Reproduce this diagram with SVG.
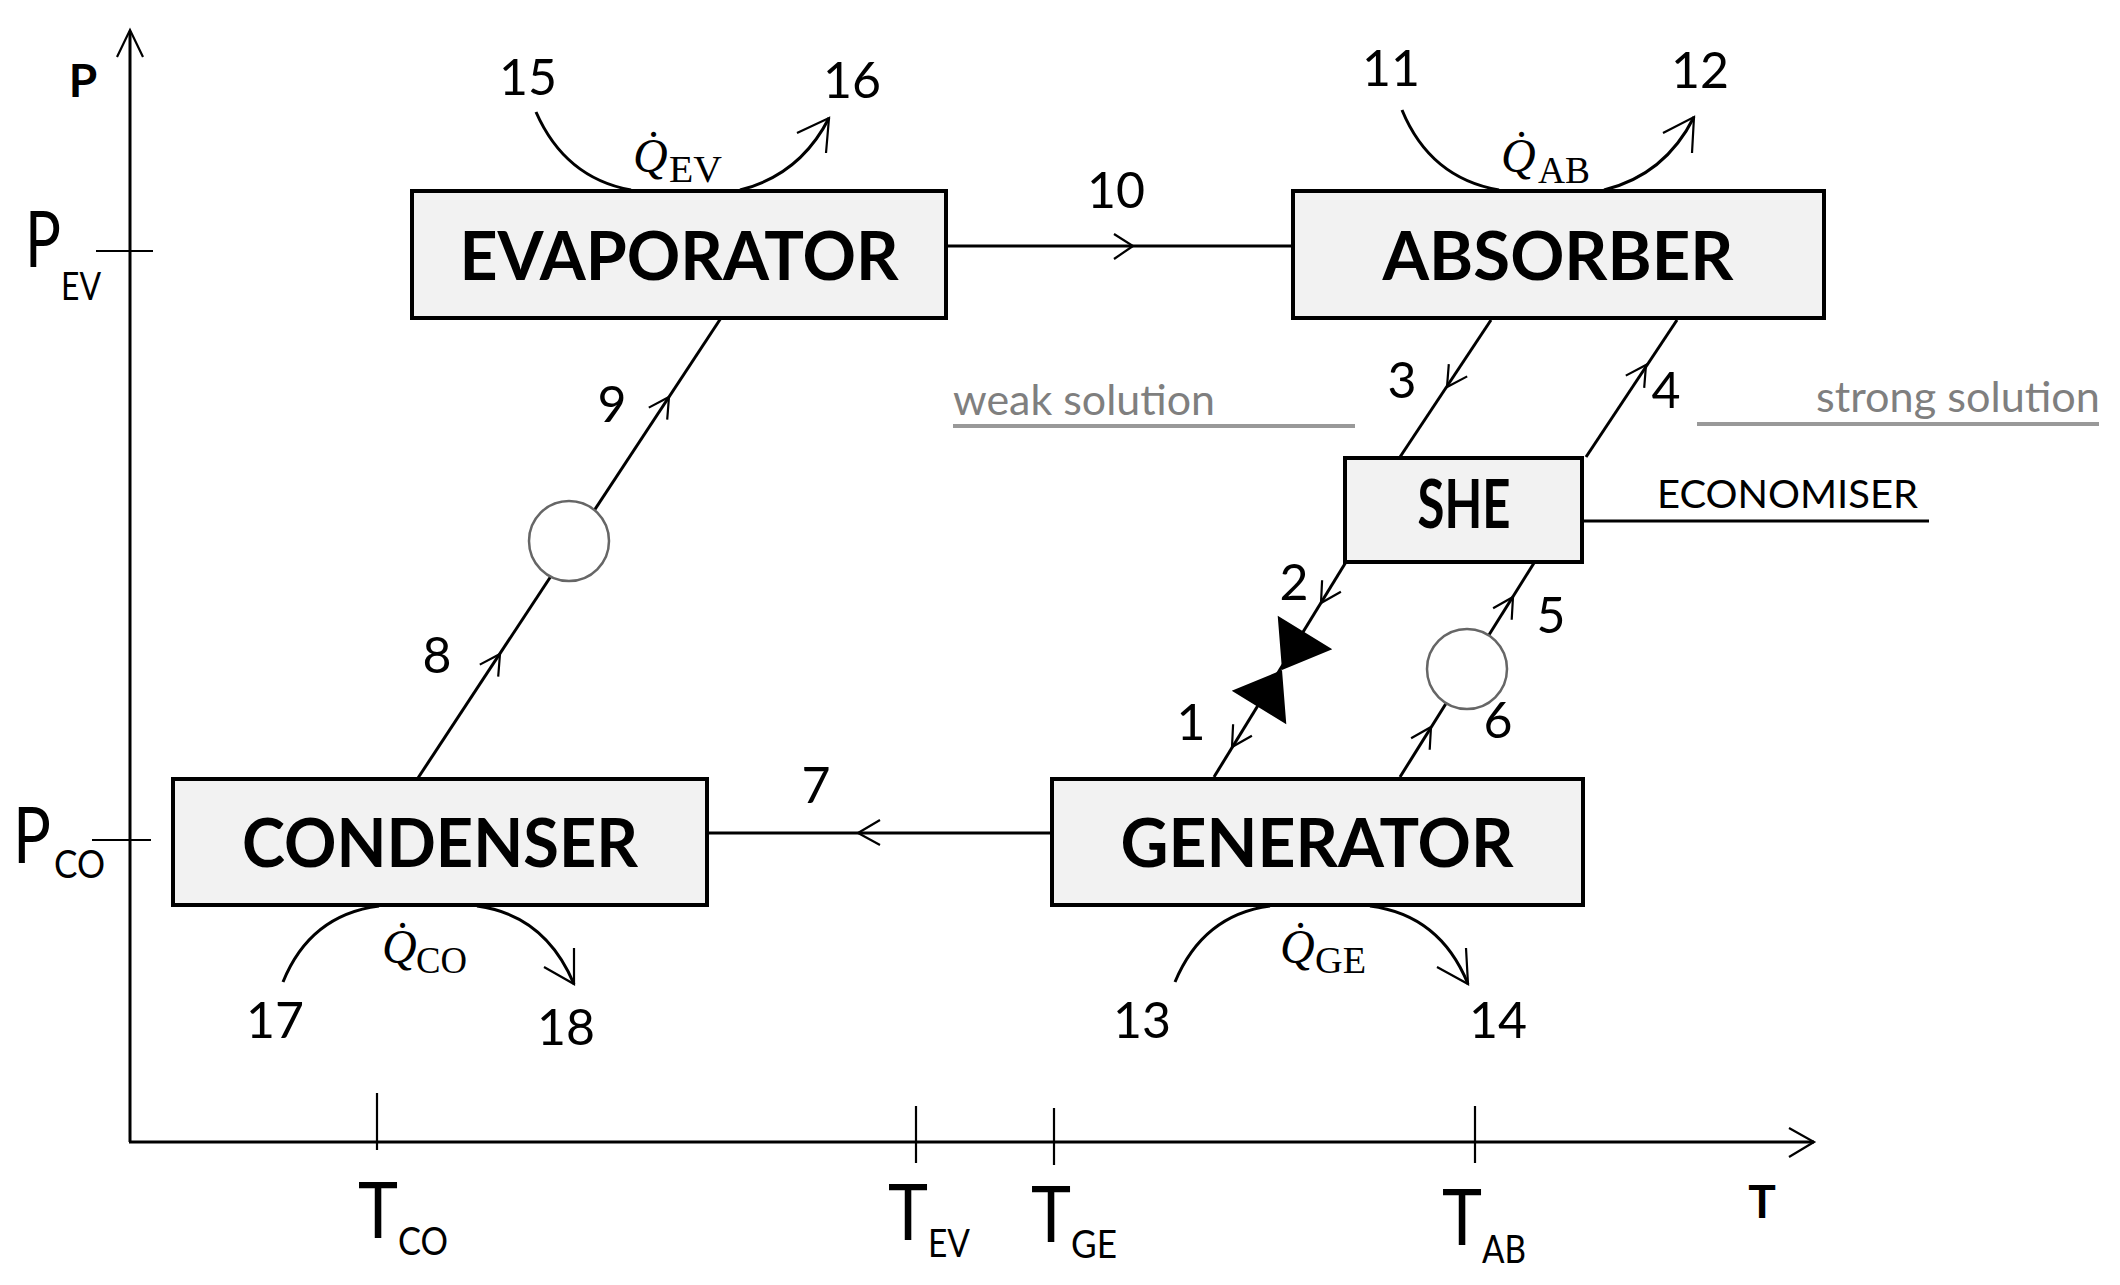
<svg xmlns="http://www.w3.org/2000/svg" width="2120" height="1285" viewBox="0 0 2120 1285">
<style>
.box{fill:#f2f2f2;stroke:#000;stroke-width:4}
.lbl{font-family:Lato,"Liberation Sans",sans-serif;font-weight:bold;font-size:66px;fill:#000;text-anchor:middle}
.num{font-family:Lato,"Liberation Sans",sans-serif;font-size:50px;fill:#000;text-anchor:middle}
.ax{font-family:Lato,"Liberation Sans",sans-serif;font-size:77px;fill:#000}
.sub{font-family:Lato,"Liberation Sans",sans-serif;font-size:38px;fill:#000}
.axb{font-family:Lato,"Liberation Sans",sans-serif;font-weight:bold;font-size:46px;fill:#000;text-anchor:middle}
.q{font-family:"Liberation Serif","DejaVu Serif",serif;font-style:italic;font-size:48px;fill:#000}
.qs{font-family:"Liberation Serif","DejaVu Serif",serif;font-size:38px;fill:#000}
.note{font-family:Lato,"Liberation Sans",sans-serif;font-size:43px;fill:#7f7f7f}
.ln{fill:none;stroke:#000;stroke-width:3}
.thin{fill:none;stroke:#000;stroke-width:2.2}
.gray{fill:none;stroke:#999;stroke-width:4}
.pump{fill:#fff;stroke:#666;stroke-width:2.5}
</style>

<g id="axes">
  <line class="ln" x1="130" y1="1142" x2="130" y2="32" stroke-width="2.5"/>
  <polyline class="thin" points="117,57 130,30 143,57"/>
  <line class="ln" x1="129" y1="1142" x2="1814" y2="1142" stroke-width="3.5"/>
  <polyline class="thin" points="1789,1128 1814,1142 1789,1157" stroke-width="2.5"/>
  <line class="thin" x1="96" y1="251" x2="153" y2="251"/>
  <line class="thin" x1="92" y1="840" x2="151" y2="840"/>
  <line class="thin" x1="377" y1="1093" x2="377" y2="1150"/>
  <line class="thin" x1="916" y1="1106" x2="916" y2="1163"/>
  <line class="thin" x1="1054" y1="1108" x2="1054" y2="1165"/>
  <line class="thin" x1="1475" y1="1106" x2="1475" y2="1163"/>
  <text class="axb" x="83" y="97">P</text>
  <text class="axb" x="1762" y="1218">T</text>
  <text class="ax" x="25" y="267" textLength="36" lengthAdjust="spacingAndGlyphs">P</text>
  <text class="sub" x="61" y="300" textLength="40" lengthAdjust="spacingAndGlyphs">EV</text>
  <text class="ax" x="13" y="863" textLength="38" lengthAdjust="spacingAndGlyphs">P</text>
  <text class="sub" x="54" y="878" textLength="51" lengthAdjust="spacingAndGlyphs">CO</text>
  <text class="ax" x="358" y="1238" textLength="40" lengthAdjust="spacingAndGlyphs">T</text>
  <text class="sub" x="398" y="1255" textLength="50" lengthAdjust="spacingAndGlyphs">CO</text>
  <text class="ax" x="888" y="1240" textLength="40" lengthAdjust="spacingAndGlyphs">T</text>
  <text class="sub" x="928" y="1257" textLength="42" lengthAdjust="spacingAndGlyphs">EV</text>
  <text class="ax" x="1031" y="1242" textLength="40" lengthAdjust="spacingAndGlyphs">T</text>
  <text class="sub" x="1071" y="1258" textLength="46" lengthAdjust="spacingAndGlyphs">GE</text>
  <text class="ax" x="1442" y="1245" textLength="40" lengthAdjust="spacingAndGlyphs">T</text>
  <text class="sub" x="1482" y="1263" textLength="44" lengthAdjust="spacingAndGlyphs">AB</text>
</g>

<g id="connectors">
  <!-- 10: evaporator -> absorber -->
  <line class="ln" x1="946" y1="246" x2="1293" y2="246"/>
  <polyline class="thin" points="1114,234 1133,246 1114,259"/>
  <!-- 7: generator -> condenser -->
  <line class="ln" x1="1052" y1="833" x2="707" y2="833"/>
  <polyline class="thin" points="880,820 858,833 880,845"/>
  <!-- 8/9: condenser -> pump -> evaporator -->
  <line class="ln" x1="418" y1="778" x2="721" y2="318"/>
  <polyline class="thin" points="498.2,676.7 500,654 479.8,664.6"/>
  <polyline class="thin" points="667.2,419.7 669,397 648.8,407.6"/>
  <!-- 3: absorber -> SHE -->
  <line class="ln" x1="1491" y1="320" x2="1400" y2="457"/>
  <polyline class="thin" points="1467.2,376.4 1447,387 1448.8,364.2"/>
  <!-- 4: SHE -> absorber -->
  <line class="ln" x1="1586" y1="457" x2="1677" y2="320"/>
  <polyline class="thin" points="1644.2,387.8 1646,365 1625.8,375.6"/>
  <!-- 2/1: SHE -> valve -> generator -->
  <line class="ln" x1="1346" y1="562" x2="1214" y2="777"/>
  <polyline class="thin" points="1340.9,591.7 1321,603 1322.1,580.2"/>
  <polyline class="thin" points="1251.9,735.7 1232,747 1233.1,724.2"/>
  <!-- 6/5: generator -> pump -> SHE -->
  <line class="ln" x1="1400" y1="777" x2="1534" y2="563"/>
  <polyline class="thin" points="1429.7,749.8 1431,727 1411.1,738.2"/>
  <polyline class="thin" points="1511.7,619.8 1513,597 1493.1,608.2"/>
  <!-- economiser leader -->
  <line class="ln" x1="1582" y1="521" x2="1929" y2="521" stroke-width="3.5"/>
  <!-- heat flows -->
  <path class="ln" d="M536,112 Q565,178 631,190"/>
  <path class="ln" d="M740,190 Q800,175 829,118"/>
  <polyline class="thin" points="797,133 829,118 826,153" stroke-width="2.5"/>
  <path class="ln" d="M1402,110 Q1430,178 1499,190"/>
  <path class="ln" d="M1604,190 Q1665,175 1694,117"/>
  <polyline class="thin" points="1663,133 1694,117 1692,153" stroke-width="2.5"/>
  <path class="ln" d="M283,982 Q310,915 379,906"/>
  <path class="ln" d="M477,906 Q545,915 574,984"/>
  <polyline class="thin" points="544,967 574,984 574,948" stroke-width="2.5"/>
  <path class="ln" d="M1175,982 Q1203,915 1270,906"/>
  <path class="ln" d="M1370,906 Q1440,915 1468,984"/>
  <polyline class="thin" points="1437,967 1468,984 1466,948" stroke-width="2.5"/>
</g>

<g id="pump1"><circle class="pump" cx="569" cy="541" r="40"/></g>
<g id="pump2"><circle class="pump" cx="1467" cy="669" r="40"/></g>
<g id="valve">
  <g transform="translate(1282,670) rotate(121.5)">
    <path d="M0,0 L44,-32 L44,32 Z M0,0 L-44,-32 L-44,32 Z" fill="#000"/>
  </g>
</g>

<g id="evaporator">
  <rect class="box" x="412" y="191" width="534" height="127"/>
  <text class="lbl" x="679" y="280" textLength="439" lengthAdjust="spacingAndGlyphs">EVAPORATOR</text>
</g>
<g id="absorber">
  <rect class="box" x="1293" y="191" width="531" height="127"/>
  <text class="lbl" x="1558" y="280" textLength="351" lengthAdjust="spacingAndGlyphs">ABSORBER</text>
</g>
<g id="condenser">
  <rect class="box" x="173" y="779" width="534" height="126"/>
  <text class="lbl" x="440" y="867" textLength="396" lengthAdjust="spacingAndGlyphs">CONDENSER</text>
</g>
<g id="generator">
  <rect class="box" x="1052" y="779" width="531" height="126"/>
  <text class="lbl" x="1317" y="867" textLength="393" lengthAdjust="spacingAndGlyphs">GENERATOR</text>
</g>
<g id="she">
  <rect class="box" x="1345" y="458" width="237" height="104"/>
  <text class="lbl" x="1464" y="528" font-size="49" textLength="93" lengthAdjust="spacingAndGlyphs">SHE</text>
</g>

<g id="labels">
  <text class="num" x="528" y="95">15</text>
  <text class="num" x="852" y="98">16</text>
  <text class="num" x="1391" y="86">11</text>
  <text class="num" x="1700" y="88">12</text>
  <text class="num" x="1116" y="208">10</text>
  <text class="num" x="612" y="422">9</text>
  <text class="num" x="437" y="673">8</text>
  <text class="num" x="816" y="803">7</text>
  <text class="num" x="1402" y="398">3</text>
  <text class="num" x="1666" y="408">4</text>
  <text class="num" x="1294" y="600">2</text>
  <text class="num" x="1191" y="740">1</text>
  <text class="num" x="1551" y="633">5</text>
  <text class="num" x="1498" y="738">6</text>
  <text class="num" x="275" y="1038">17</text>
  <text class="num" x="566" y="1045">18</text>
  <text class="num" x="1142" y="1038">13</text>
  <text class="num" x="1498" y="1038">14</text>

  <text class="q" x="633" y="172">Q̇</text>
  <text class="qs" x="669" y="182" textLength="53" lengthAdjust="spacingAndGlyphs">EV</text>
  <text class="q" x="1501" y="172">Q̇</text>
  <text class="qs" x="1538" y="183" textLength="52" lengthAdjust="spacingAndGlyphs">AB</text>
  <text class="q" x="382" y="963">Q̇</text>
  <text class="qs" x="416" y="973" textLength="51" lengthAdjust="spacingAndGlyphs">CO</text>
  <text class="q" x="1280" y="963">Q̇</text>
  <text class="qs" x="1315" y="973" textLength="51" lengthAdjust="spacingAndGlyphs">GE</text>

  <text class="note" x="953" y="415" textLength="262" lengthAdjust="spacingAndGlyphs">weak solution</text>
  <line class="gray" x1="953" y1="426" x2="1355" y2="426"/>
  <text class="note" x="1816" y="412" textLength="284" lengthAdjust="spacingAndGlyphs">strong solution</text>
  <line class="gray" x1="1697" y1="424" x2="2099" y2="424"/>
  <text x="1657" y="508" font-family="Lato,'Liberation Sans',sans-serif" font-size="39" fill="#000" textLength="261" lengthAdjust="spacingAndGlyphs">ECONOMISER</text>
</g>
</svg>
